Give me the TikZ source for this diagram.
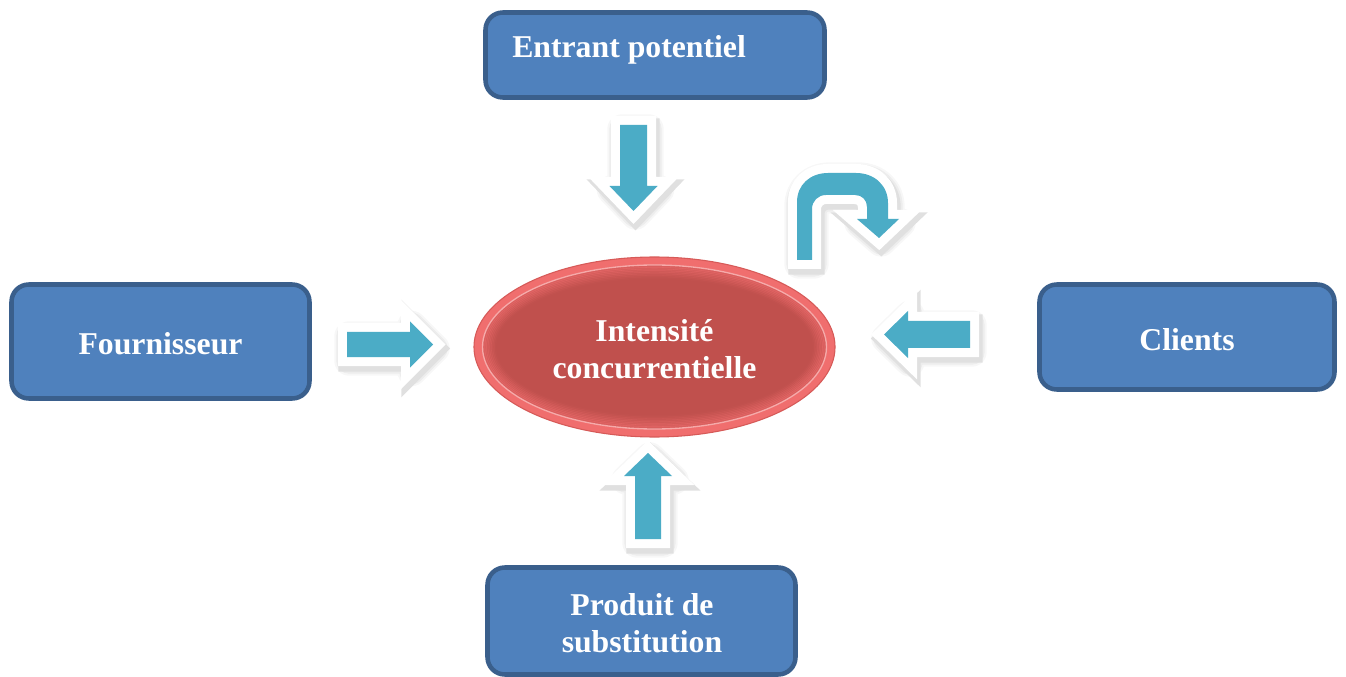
\documentclass[tikz,border=0pt]{standalone}
\usepackage{fontspec}
\setmainfont{Liberation Serif}
\usetikzlibrary{calc}

\definecolor{boxfill}{HTML}{4F81BD}
\definecolor{boxline}{HTML}{3A5F8C}
\definecolor{arrowteal}{HTML}{4BACC6}
\definecolor{ellcore}{HTML}{C0504D}
\definecolor{ellband}{HTML}{F06E6E}
\definecolor{ellrim}{HTML}{D65A58}
\definecolor{ellline}{HTML}{F6AAAA}
\definecolor{shadowA}{HTML}{F7F7F7}
\definecolor{shadowB}{HTML}{EDEDED}
\definecolor{shadowC}{HTML}{E0E0E0}

\tikzset{
  forcebox/.style={draw=boxline, fill=boxfill, line width=3.4pt,
    rounded corners=13pt, inner sep=0pt},
  boxtext/.style={text=white, inner sep=0pt, align=center,
    font=\fontsize{23.8pt}{27.75pt}\selectfont\bfseries},
  glowouter/.style={draw=shadowA, fill=shadowA, line width=22pt, line join=round},
  glowmid/.style={draw=shadowB, fill=shadowB, line width=19pt, line join=round},
  glowinner/.style={draw=shadowC, fill=shadowC, line width=16pt, line join=miter},
  arrowrim/.style={draw=white, fill=white, line width=13.5pt, line join=miter},
  arrowbody/.style={fill=arrowteal},
}

% block arrow: soft shadow, white rim, teal body
\newcommand{\blockarrow}[1]{%
  \path[glowouter, shift={(2,4)}] #1;
  \path[glowmid, shift={(2,4)}] #1;
  \path[glowinner, shift={(2,4)}] #1;
  \path[arrowrim] #1;
  \path[arrowbody] #1;
}

\begin{document}
\begin{tikzpicture}[x=0.75pt, y=-0.75pt]
\useasboundingbox (0,0) rectangle (1346,677);

% the five force boxes
\node[forcebox, minimum width=254.25pt, minimum height=63.75pt] (entrant) at (655,55) {};
\node[boxtext, anchor=base west] (entranttext) at (512,58) {Entrant potentiel};

\node[forcebox, minimum width=223.5pt, minimum height=85.5pt] (fournisseur) at (160.5,341.5) {};
\node[boxtext, anchor=base] (fournisseurtext) at (160.5,354) {Fournisseur};

\node[forcebox, minimum width=221.25pt, minimum height=78.75pt] (clients) at (1187,337) {};
\node[boxtext, anchor=base] (clientstext) at (1187,350) {Clients};

\node[forcebox, minimum width=231pt, minimum height=80.25pt] (produit) at (641.5,621) {};
\node[boxtext] (produittext) at (642,623) {Produit de\\substitution};

% central ellipse with glowing rim
\coordinate (core) at (654.5,347);
\fill[ellband, draw=ellrim, line width=0.8pt] (core) ellipse [x radius=135.4pt, y radius=67.5pt];
\fill[ellcore] (core) ellipse [x radius=129pt, y radius=61.5pt];
\foreach \i [evaluate=\i as \op using 0.6-0.07*\i] in {1,...,8}{
  \draw[ellband, opacity=\op, line width=1.6pt]
    (core) ellipse [x radius={129pt-1.2pt*\i}, y radius={61.5pt-1.2pt*\i}];
}
\draw[ellline, line width=1pt] (core) ellipse [x radius=129pt, y radius=61.5pt];
\node[boxtext] (coretext) at (654.5,349) {Intensité\\concurrentielle};

% arrows pointing at the centre
\blockarrow{(347,332) -- (410,332) -- (410,321.5) -- (433,344.5) -- (410,367.5) -- (410,357) -- (347,357) -- cycle}
\blockarrow{(620,125) -- (647,125) -- (647,186) -- (657.5,186) -- (633.5,211) -- (609.5,186) -- (620,186) -- cycle}
\blockarrow{(635,539) -- (661,539) -- (661,476) -- (672,476) -- (648,453) -- (624,476) -- (635,476) -- cycle}
\blockarrow{(970,321) -- (908,321) -- (908,311) -- (884,334.5) -- (908,358) -- (908,348) -- (970,348) -- cycle}

% u-turn arrow
\blockarrow{(797,260) -- (797,202) .. controls (797,185) and (810,173) .. (828,173) -- (856,173) .. controls (875,173) and (888,186) .. (888,203) -- (888,219) -- (899,219) -- (879,238) -- (857,219) -- (867,219) -- (867,207) .. controls (867,200) and (862,195) .. (855,195) -- (826,195) .. controls (818,195) and (812,201) .. (812,209) -- (812,260) -- cycle}

\end{tikzpicture}
\end{document}
